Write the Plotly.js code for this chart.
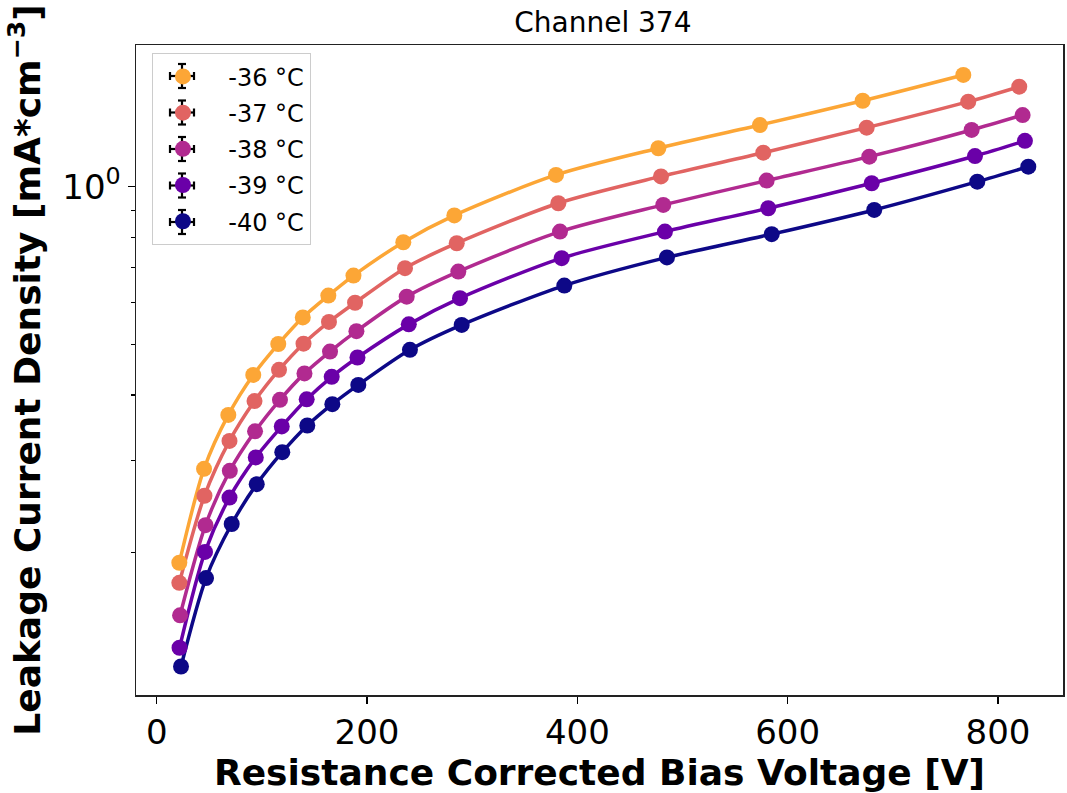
<!DOCTYPE html>
<html>
<head>
<meta charset="utf-8">
<script src="https://cdn.plot.ly/plotly-3.0.1.min.js"></script>
<style>html,body{margin:0;padding:0;background:#fff}#chart{width:1067px;height:793px}</style>
</head>
<body>
<div id="chart"></div>
<script>
const labels = ["-36 °C", "-37 °C", "-38 °C", "-39 °C", "-40 °C"];
const colors = ["#fca636", "#e16462", "#b12a90", "#6a00a8", "#0d0887"];

const v36 = [21.5, 45.0, 68.1, 91.8, 115.6, 138.9, 163.2, 187.1, 234.5, 283.0, 379.7, 477.0, 573.6, 671.3, 767.0];
const j36 = [0.1914, 0.2892, 0.3666, 0.4370, 0.5006, 0.5627, 0.6194, 0.6763, 0.7832, 0.8812, 1.053, 1.184, 1.311, 1.459, 1.634];

const v37 = [21.5, 45.4, 69.2, 93.0, 116.3, 139.6, 163.8, 188.6, 236.1, 285.3, 381.9, 479.5, 576.8, 675.1, 771.7, 820.2];
const j37 = [0.1752, 0.2569, 0.3270, 0.3896, 0.4469, 0.5014, 0.5518, 0.6003, 0.6988, 0.7798, 0.9297, 1.046, 1.161, 1.296, 1.453, 1.552];

const v38 = [22.2, 46.4, 69.5, 93.5, 117.2, 140.5, 164.8, 189.9, 237.7, 286.8, 383.5, 481.7, 580.0, 677.6, 774.9, 823.4];
const j38 = [0.1519, 0.2258, 0.2867, 0.3410, 0.3917, 0.4400, 0.4843, 0.5297, 0.6166, 0.6883, 0.8206, 0.9228, 1.027, 1.141, 1.283, 1.370];

const v39 = [21.7, 45.9, 69.2, 94.2, 118.9, 142.6, 166.4, 190.9, 239.7, 288.4, 385.1, 483.3, 581.5, 679.9, 778.1, 825.6];
const j39 = [0.1317, 0.2007, 0.2549, 0.3041, 0.3485, 0.3926, 0.4334, 0.4718, 0.5458, 0.6124, 0.7303, 0.8206, 0.9094, 1.015, 1.144, 1.223];

const v40 = [23.1, 46.9, 71.3, 95.1, 119.4, 143.2, 167.0, 191.7, 240.8, 290.0, 387.6, 485.2, 584.8, 682.3, 780.3, 828.8];
const j40 = [0.1213, 0.1789, 0.2269, 0.2704, 0.3112, 0.3499, 0.3843, 0.4183, 0.4880, 0.5445, 0.6473, 0.7326, 0.8115, 0.9027, 1.022, 1.092];

const yTickVals = [1];
const yTickText = ["10<sup>0</sup>"];
const yMinorVals = [0.2, 0.3, 0.4, 0.5, 0.6, 0.7, 0.8, 0.9];
const xTickVals = [0, 200, 400, 600, 800];

const series = [[v36, j36], [v37, j37], [v38, j38], [v39, j39], [v40, j40]];
const traces = [];
series.forEach((s, i) => {
  traces.push({
    x: s[0], y: s[1], type: 'scatter', mode: 'lines',
    line: {color: colors[i], width: 3.5, shape: 'spline', smoothing: 0.8},
    showlegend: false, hoverinfo: 'skip'
  });
});
series.forEach((s, i) => {
  traces.push({
    x: s[0], y: s[1], type: 'scatter', mode: 'markers', name: '\u00a0\u00a0' + labels[i],
    legendgroup: 'g' + i,
    marker: {color: colors[i], size: 16}
  });
});

// error-bar glyphs for the legend entries (decoration, paper coordinates)
const plotTop = 45, plotH = 650, plotL = 136, plotW = 927;
const shapes = [];
labels.forEach((_, i) => {
  const cx = 182, cy = 76 + 36.5 * i;
  const px = x => (x - plotL) / plotW;
  const py = y => (plotTop + plotH - y) / plotH;
  const ln = (x0, y0, x1, y1) => shapes.push({type: 'line', xref: 'paper', yref: 'paper',
    x0: px(x0), y0: py(y0), x1: px(x1), y1: py(y1), line: {color: '#000', width: 2.2}, layer: 'above'});
  ln(cx, cy - 12, cx, cy + 12);
  ln(cx - 12, cy, cx + 12, cy);
  ln(cx - 4, cy - 12, cx + 4, cy - 12);
  ln(cx - 4, cy + 12, cx + 4, cy + 12);
  ln(cx - 12, cy - 4, cx - 12, cy + 4);
  ln(cx + 12, cy - 4, cx + 12, cy + 4);
});

const font = "DejaVu Sans, sans-serif";
const layout = {
  width: 1067, height: 793,
  paper_bgcolor: '#fff', plot_bgcolor: '#fff',
  margin: {l: 136, r: 4, t: 45, b: 98},
  font: {family: font, color: '#000'},
  title: {text: 'Channel 374', font: {size: 28, family: font, color: '#000'}, x: 0.565, xanchor: 'center', y: 0.972, yanchor: 'middle'},
  xaxis: {
    range: [-19.7, 861.8], tickvals: xTickVals, ticks: 'outside', ticklen: 7, tickwidth: 1.5, tickcolor: '#000',
    showgrid: false, zeroline: false, showline: true, linecolor: '#222', linewidth: 1.5, mirror: true,
    tickfont: {size: 34, family: font},
    title: {text: '<b>Resistance Corrected Bias Voltage [V]</b>', font: {size: 36, family: font}, standoff: 10}
  },
  yaxis: {
    type: 'log', range: [Math.log10(0.107), Math.log10(1.864)],
    tickmode: 'array', tickvals: yTickVals, ticktext: yTickText,
    ticks: 'outside', ticklen: 7, tickwidth: 1.5, tickcolor: '#000',
    minor: {tickmode: 'array', tickvals: yMinorVals, ticks: 'outside', ticklen: 4, tickwidth: 1.2, tickcolor: '#000', showgrid: false},
    showgrid: false, zeroline: false, showline: true, linecolor: '#222', linewidth: 1.5, mirror: true,
    tickfont: {size: 34, family: font},
    title: {text: '<b>Leakage Current Density [mA*cm<sup>−3</sup>]</b>', font: {size: 36, family: font}, standoff: 10}
  },
  legend: {
    x: 0.017, y: 0.9875, xanchor: 'left', yanchor: 'top',
    bgcolor: 'rgba(0,0,0,0)', bordercolor: '#cccccc', borderwidth: 1.2,
    font: {size: 24, family: font}, tracegroupgap: 2, itemwidth: 50
  },
  shapes: shapes,
  showlegend: true
};

Plotly.newPlot('chart', traces, layout, {staticPlot: true, displayModeBar: false});
</script>
</body>
</html>
